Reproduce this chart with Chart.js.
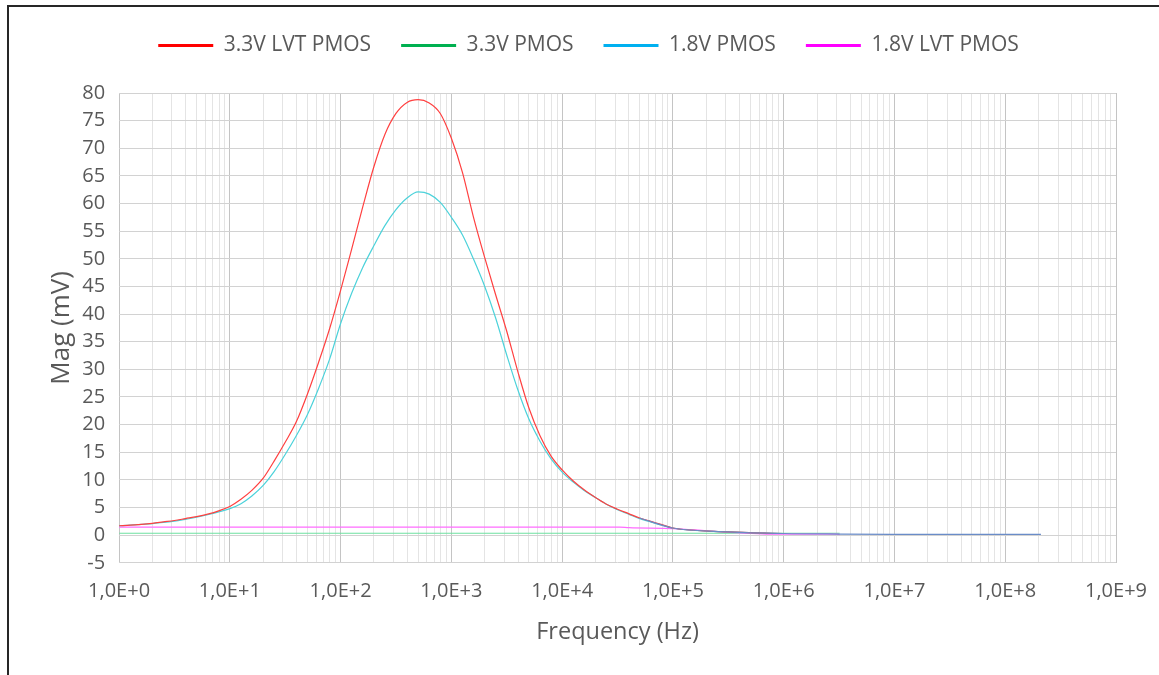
<!DOCTYPE html>
<html>
<head>
<meta charset="utf-8">
<script src="https://cdn.jsdelivr.net/npm/chart.js@4.4.1/dist/chart.umd.min.js"></script>
<style>
  html, body { margin: 0; padding: 0; background: #fff; overflow: hidden; }
  #frame {
    position: absolute; left: 7px; top: 5px; width: 1200px; height: 720px;
    border-left: 2px solid #262626; border-top: 2px solid #262626;
  }
  #chart { position: absolute; left: 9px; top: 5px; }
</style>
</head>
<body>
<div id="frame"></div>
<canvas id="chart" width="1160" height="670"></canvas>
<script>
// sample frequencies (Hz), a tenth of a decade apart, then two sparse points
const freqs = [1, 1.26, 1.58, 2, 2.51, 3.16, 3.98, 5.01, 6.31, 7.94,
  10, 12.6, 15.8, 20, 25.1, 31.6, 39.8, 50.1, 63.1, 79.4,
  100, 126, 158, 200, 251, 316, 398, 501, 631, 794,
  1000, 1260, 1580, 2000, 2510, 3160, 3980, 5010, 6310, 7940,
  10000, 12600, 15800, 20000, 25100, 31600, 39800, 50100, 63100, 79400,
  100000, 316000, 1000000];

// 3.3V LVT PMOS (mV)
const lvt33 = [1.7, 1.8, 1.95, 2.15, 2.4, 2.65, 3.0, 3.35, 3.8, 4.4,
  5.2, 6.5, 8.1, 10.3, 13.4, 16.8, 20.5, 25.5, 31.2, 37.3,
  44.3, 51.8, 59.3, 66.7, 72.5, 76.3, 78.3, 78.8, 78.2, 76.3,
  71.8, 65.6, 57.6, 50.2, 43.5, 36.9, 29.6, 23.0, 18.0, 14.3,
  11.8, 9.8, 8.2, 6.8, 5.6, 4.7, 3.9, 3.1, 2.5, 1.9,
  1.3, 0.6, 0.3];

// 1.8V PMOS (mV)
const pmos18 = [1.7, 1.8, 1.95, 2.1, 2.3, 2.55, 2.85, 3.25, 3.7, 4.2,
  4.8, 5.7, 7.1, 9.0, 11.5, 14.6, 18.0, 21.8, 26.5, 31.8,
  38.3, 43.8, 48.4, 52.4, 56.0, 58.9, 61.0, 62.1, 61.7, 60.2,
  57.5, 54.3, 50.0, 45.0, 39.3, 32.6, 26.3, 21.0, 17.0, 13.8,
  11.4, 9.6, 8.1, 6.8, 5.6, 4.6, 3.8, 3.0, 2.4, 1.8,
  1.25, 0.6, 0.3];

// 3.3V PMOS
const pmos33Freq = [1, 3200000];
const pmos33 = [0.35, 0.35];

// 1.8V LVT PMOS
const lvt18Freq = [1, 1000, 10000, 33000, 40000, 100000, 200000, 400000, 700000, 3000000, 3200000];
const lvt18 = [1.45, 1.45, 1.45, 1.45, 1.35, 1.2, 0.8, 0.4, 0.2, 0.2, 0.1];

// converged tail drawn over all curves (not in legend)
const tailFreq = [50100, 100000, 316000, 1000000, 3200000, 10000000, 32000000, 100000000, 210000000];
const tail = [3.1, 1.3, 0.6, 0.3, 0.2, 0.15, 0.15, 0.15, 0.15];

const seriesNames = ['3.3V LVT PMOS', '3.3V PMOS', '1.8V PMOS', '1.8V LVT PMOS'];
const lineColors = ['#ff4040', '#6ee0a0', '#4cd2da', '#ff6cff', '#6a8cc8'];
const legendColors = ['#ff0000', '#00b050', '#00b0f0', '#ff00ff'];

// x grid: 1..9 x 10^n, labelled only on the decades
const xGridValues = [];
for (let e = 0; e <= 9; e++) {
  for (let m = 1; m <= 9; m++) {
    if (e === 9 && m > 1) break;
    xGridValues.push(m * Math.pow(10, e));
  }
}

const pts = (xs, ys) => ys.map((y, i) => ({ x: xs[i], y: y }));
const txt = '#595959';
const font = 'Open Sans';

const mk = (label, data, color, order) => ({
  label: label,
  data: data,
  borderColor: color,
  backgroundColor: color,
  borderWidth: 1.2,
  pointRadius: 0,
  cubicInterpolationMode: 'monotone',
  fill: false,
  order: order
});

// extra room under the legend, and nudge it right like the original
const legendGap = {
  id: 'legendGap',
  beforeInit(chart) {
    const fit = chart.legend.fit;
    chart.legend.fit = function () {
      fit.call(this);
      this.height += 27;
    };
  },
  afterLayout(chart) {
    chart.legend.left += 16;
    chart.legend.right += 16;
  }
};

new Chart(document.getElementById('chart'), {
  type: 'line',
  data: {
    datasets: [
      mk(seriesNames[0], pts(freqs, lvt33), lineColors[0], 1),
      mk(seriesNames[1], pts(pmos33Freq, pmos33), lineColors[1], 4),
      mk(seriesNames[2], pts(freqs, pmos18), lineColors[2], 2),
      mk(seriesNames[3], pts(lvt18Freq, lvt18), lineColors[3], 3),
      mk('', pts(tailFreq, tail), lineColors[4], 0)
    ]
  },
  plugins: [legendGap],
  options: {
    responsive: false,
    animation: false,
    layout: { padding: { left: 20, right: 53, top: 0, bottom: 25 } },
    plugins: {
      tooltip: { enabled: false },
      legend: {
        position: 'top',
        labels: {
          boxWidth: 55,
          boxHeight: 3,
          padding: 30,
          color: txt,
          font: { family: font, size: 21 },
          filter: (item) => item.datasetIndex < 4,
          sort: (a, b) => a.datasetIndex - b.datasetIndex,
          generateLabels: (chart) => {
            const items = Chart.defaults.plugins.legend.labels.generateLabels(chart);
            items.forEach((it) => {
              if (it.datasetIndex < 4) {
                it.fillStyle = legendColors[it.datasetIndex];
                it.strokeStyle = legendColors[it.datasetIndex];
                it.lineWidth = 0;
              }
            });
            return items;
          }
        }
      }
    },
    scales: {
      x: {
        type: 'logarithmic',
        min: 1,
        max: 1e9,
        afterBuildTicks: (scale) => {
          scale.ticks = xGridValues.map((v) => ({ value: v, major: Math.log10(v) % 1 === 0 }));
        },
        ticks: {
          autoSkip: false,
          maxRotation: 0,
          color: txt,
          padding: 16,
          font: { family: font, size: 20 },
          callback: function (value) {
            const e = Math.log10(value);
            return Math.abs(e - Math.round(e)) < 1e-9 ? '1,0E+' + Math.round(e) : '';
          }
        },
        grid: {
          drawTicks: false,
          color: (ctx) => (ctx.tick && ctx.tick.major ? '#c4c4c4' : '#e4e4e4'),
          lineWidth: 1
        },
        border: { display: false },
        title: {
          display: true,
          text: 'Frequency (Hz)',
          color: txt,
          font: { family: font, size: 23.5 },
          padding: { top: -1, bottom: 4 }
        }
      },
      y: {
        min: -5,
        max: 80,
        ticks: {
          stepSize: 5,
          color: txt,
          padding: 14,
          font: { family: font, size: 20 }
        },
        grid: {
          drawTicks: false,
          color: '#d2d2d2',
          lineWidth: 1
        },
        border: { display: false },
        title: {
          display: true,
          text: 'Mag (mV)',
          color: txt,
          font: { family: font, size: 26 },
          padding: { top: 17, bottom: -9 }
        }
      }
    }
  }
});
</script>
</body>
</html>
